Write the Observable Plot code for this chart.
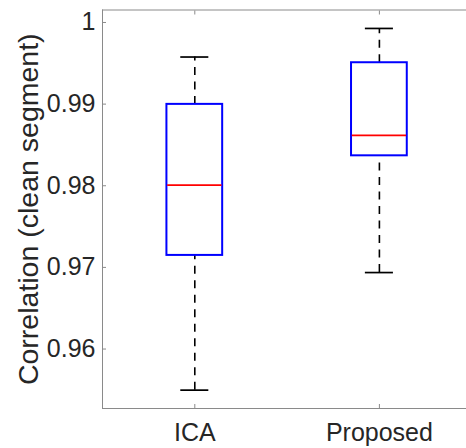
<!DOCTYPE html>
<html><head><meta charset="utf-8">
<script src="https://cdn.jsdelivr.net/npm/d3@7"></script>
<script src="https://cdn.jsdelivr.net/npm/@observablehq/plot@0.6"></script>
<style>body{margin:0;background:#fff}</style>
</head><body><div id="chart"></div>
<script>
const categories = ["ICA", "Proposed"];
const lowerWhisker = [0.9546, 0.9690];
const q1 = [0.9711, 0.9833];
const median = [0.9797, 0.9858];
const q3 = [0.9896, 0.9947];
const upperWhisker = [0.9954, 0.9989];
const yTicks = [0.96, 0.97, 0.98, 0.99, 1];
const yTickLabels = ["0.96", "0.97", "0.98", "0.99", "1"];
const yLimits = [0.95235, 1.00116];
const xLimits = [0.5, 2.5];
const yLabel = "Correlation (clean segment)";

const data = categories.map((c, i) => ({pos: i + 1, name: c, lo: lowerWhisker[i], q1: q1[i], med: median[i], q3: q3[i], hi: upperWhisker[i]}));
const boxHalf = 0.151, capHalf = 0.076;
const font = "'Liberation Sans', Arial, Helvetica, sans-serif";
const textColor = "#262626";
const lineColor = "#8a8a8a";
const dash = "8,6.5";

const chart = Plot.plot({
  width: 466,
  height: 448,
  marginLeft: 102,
  marginRight: 0,
  marginTop: 9.5,
  marginBottom: 40,
  style: {fontFamily: font, background: "#fff"},
  x: {domain: xLimits, range: [102, 471.2]},
  y: {domain: yLimits},
  marks: [
    Plot.ruleX(data, {x: "pos", y1: "q3", y2: "hi", stroke: "black", strokeWidth: 1.6, strokeDasharray: dash}),
    Plot.ruleX(data, {x: "pos", y1: "lo", y2: "q1", stroke: "black", strokeWidth: 1.6, strokeDasharray: dash}),
    Plot.ruleY(data, {y: "hi", x1: d => d.pos - capHalf, x2: d => d.pos + capHalf, stroke: "black", strokeWidth: 1.7}),
    Plot.ruleY(data, {y: "lo", x1: d => d.pos - capHalf, x2: d => d.pos + capHalf, stroke: "black", strokeWidth: 1.7}),
    Plot.rect(data, {x1: d => d.pos - boxHalf, x2: d => d.pos + boxHalf, y1: "q1", y2: "q3", fill: "none", stroke: "#0000ff", strokeWidth: 2}),
    Plot.ruleY(data, {y: "med", x1: d => d.pos - boxHalf + 0.004, x2: d => d.pos + boxHalf - 0.004, stroke: "#ff0000", strokeWidth: 1.7}),
    Plot.ruleY([yLimits[1]], {stroke: lineColor}),
    Plot.ruleY([yLimits[0]], {stroke: lineColor}),
    Plot.ruleX([xLimits[0]], {stroke: lineColor}),
    Plot.axisY({ticks: yTicks, tickFormat: d => yTickLabels[yTicks.indexOf(d)], tickSize: -4, tickPadding: 11, dy: 3, fontSize: 25, color: textColor, stroke: lineColor, label: null}),
    Plot.axisX({anchor: "bottom", ticks: [1, 2], tickFormat: d => categories[d - 1], tickSize: -4, tickPadding: 19, fontSize: 25, color: textColor, stroke: lineColor, label: null}),
    Plot.axisX({anchor: "top", ticks: [1, 2], tickFormat: () => "", tickSize: -4, stroke: lineColor, label: null}),
    Plot.text([yLabel], {frameAnchor: "left", textAnchor: "middle", lineAnchor: "middle", rotate: -90, dx: -74, fontSize: 28.5, fill: textColor})
  ]
});
document.getElementById("chart").appendChild(chart);
</script>
</body></html>
